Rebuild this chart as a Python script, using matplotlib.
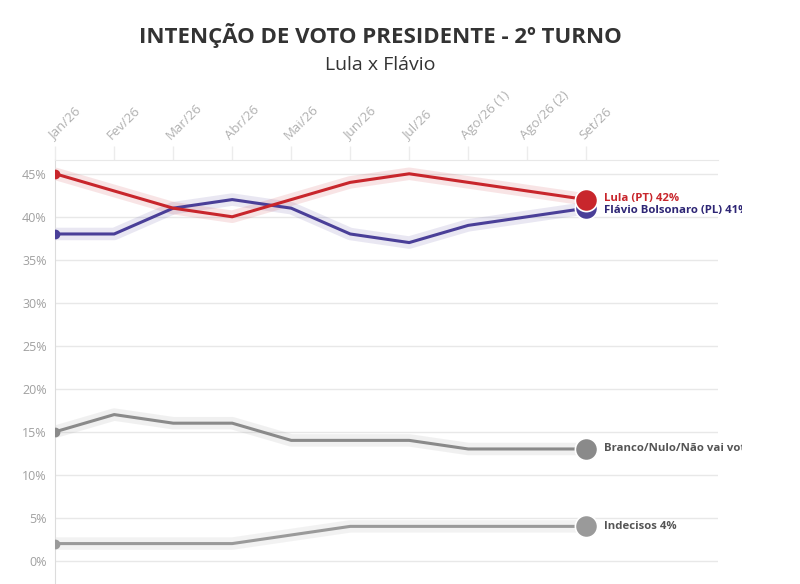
import matplotlib.pyplot as plt
from matplotlib.transforms import Bbox, TransformedBbox

plt.rcParams['font.family'] = ['Open Sans', 'DejaVu Sans']

months = ['Jan/26', 'Fev/26', 'Mar/26', 'Abr/26', 'Mai/26', 'Jun/26',
          'Jul/26', 'Ago/26 (1)', 'Ago/26 (2)', 'Set/26']
lula = [45, 43, 41, 40, 42, 44, 45, 44, 43, 42]
flavio = [38, 38, 41, 42, 41, 38, 37, 39, 40, 41]
branco = [15, 17, 16, 16, 14, 14, 14, 13, 13, 13]
indecisos = [2, 2, 2, 2, 3, 4, 4, 4, 4, 4]

series = [
    (branco, '#8a8a8a', 'Branco/Nulo/Não vai votar 13%', '#555555'),
    (indecisos, '#9a9a9a', 'Indecisos 4%', '#555555'),
    (flavio, '#4a3f98', 'Flávio Bolsonaro (PL) 41%', '#2e2675'),
    (lula, '#c8262c', 'Lula (PT) 42%', '#c8262c'),
]

fig = plt.figure(figsize=(8, 5.84), dpi=100)
ax = fig.add_axes([0.069, 0.0, 0.829, 0.726])
x = list(range(len(months)))

for vals, col, lab, tcol in series:
    ax.plot(x, vals, color=col, lw=9, alpha=0.12, solid_capstyle='round', zorder=2)
    ax.plot(x, vals, color=col, lw=2.2, zorder=3)
    ax.plot(x[0], vals[0], 'o', color=col, ms=6, zorder=4)
    ax.plot(x[-1], vals[-1], 'o', color=col, ms=16, mec='white', mew=1.2, zorder=5)

# labels at the end of each line, cut at the right like the original
clip = TransformedBbox(Bbox([[0, 0], [0.928, 1]]), fig.transFigure)
offs = {'Lula (PT) 42%': 0.15, 'Flávio Bolsonaro (PL) 41%': -0.25}
for vals, col, lab, tcol in series:
    t = ax.text(x[-1] + 0.3, vals[-1] + offs.get(lab, 0), lab, color=tcol,
                fontsize=8.2, fontweight='bold', va='center', ha='left')
    t.set_clip_box(clip)
    t.set_clip_on(True)

ax.set_xlim(0, 11.24)
ax.set_ylim(-2.7, 46.6)
ax.set_yticks(range(0, 50, 5))
ax.set_yticklabels([f'{v}%' for v in range(0, 50, 5)])
ax.set_xticks(x)
ax.set_xticklabels(months, rotation=45, ha='left', rotation_mode='anchor')
ax.xaxis.tick_top()
ax.tick_params(axis='x', length=10, width=1, color='#ececec', pad=3,
               labelsize=9.5, labelcolor='#b0b0b0')
ax.tick_params(axis='y', length=0, pad=6, labelsize=9, labelcolor='#a0a0a0')
ax.grid(axis='y', color='#e8e8e8', lw=1)
for s in ['right', 'bottom']:
    ax.spines[s].set_visible(False)
ax.spines['top'].set_color('#e8e8e8')
ax.spines['left'].set_color('#dcdcdc')
ax.set_axisbelow(True)

fig.text(0.475, 0.94, 'INTENÇÃO DE VOTO PRESIDENTE - 2º TURNO', ha='center', va='center',
         fontsize=16, fontweight='bold', color='#333333')
fig.text(0.475, 0.888, 'Lula x Flávio', ha='center', va='center', fontsize=14, color='#333333')

fig.savefig('out.png', dpi=100)
